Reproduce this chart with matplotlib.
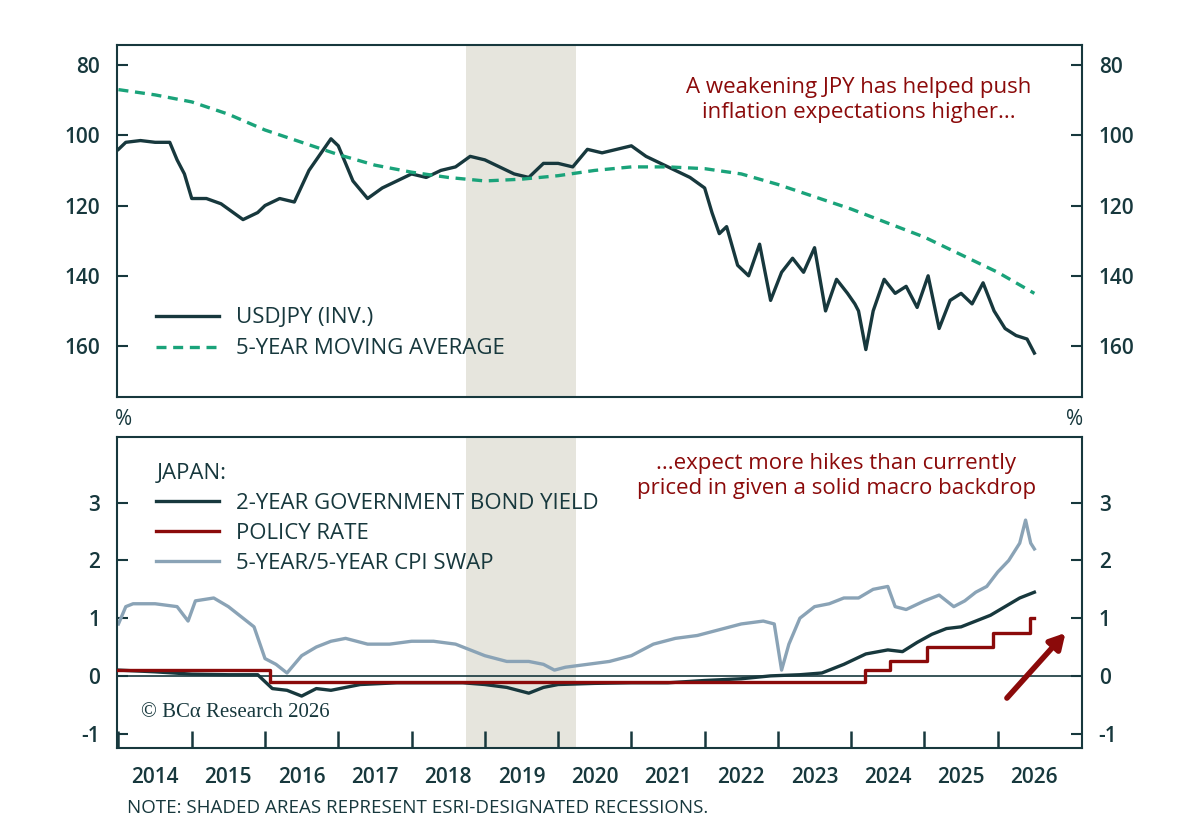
import matplotlib
matplotlib.use("Agg")
import matplotlib.pyplot as plt
import numpy as np

DARK = "#17383d"; GREEN = "#1aa37a"; RED = "#8b0a0a"; BLUE = "#8aa3b6"; SHADE = "#e6e5dd"

years = list(range(2014, 2027))
recession = (2018.74, 2020.24)

usd_t = [2014.0,2014.1,2014.3,2014.5,2014.7,2014.8,2014.9,2015.0,2015.2,2015.4,2015.5,2015.7,2015.9,2016.0,2016.2,2016.4,2016.6,2016.8,2016.9,2017.0,2017.2,2017.4,2017.6,2017.8,2018.0,2018.2,2018.4,2018.6,2018.8,2019.0,2019.2,2019.4,2019.6,2019.8,2020.0,2020.2,2020.4,2020.6,2020.8,2021.0,2021.2,2021.4,2021.6,2021.8,2022.0,2022.1,2022.2,2022.3,2022.45,2022.6,2022.75,2022.9,2023.05,2023.2,2023.35,2023.5,2023.65,2023.8,2023.95,2024.05,2024.1,2024.2,2024.3,2024.45,2024.6,2024.75,2024.9,2025.05,2025.2,2025.35,2025.5,2025.65,2025.8,2025.95,2026.1,2026.25,2026.4,2026.5]
usd_v = [104,102,101.5,102,102,107,111,118,118,119.5,121,124,122,120,118,119,110,104,101,103,113,118,115,113,111,112,110,109,106,107,109,111,112,108,108,109,104,105,104,103,106,108,110,112,115,122,128,126,137,140,131,147,139,135,139,132,150,141,145,148,150,161,150,141,145,143,149,140,155,147,145,148,142,150,155,157,158,162]

ma_t = [2014.0,2014.5,2015.0,2015.5,2016.0,2016.5,2017.0,2017.5,2018.0,2018.5,2019.0,2019.5,2020.0,2020.5,2021.0,2021.5,2022.0,2022.5,2023.0,2023.5,2024.0,2024.5,2025.0,2025.5,2026.0,2026.5]
ma_v = [87,88.5,90.5,94,98.5,102,105.5,108.5,110.5,112,113,112.5,111.5,110,109,109,109.5,111,114,117.5,121,125,129,134,139,145]

pol_t = [2014.0,2016.07,2016.07,2024.19,2024.19,2024.53,2024.53,2025.03,2025.03,2025.93,2025.93,2026.44,2026.44,2026.5]
pol_v = [0.1,0.1,-0.1,-0.1,0.1,0.1,0.25,0.25,0.5,0.5,0.75,0.75,1.0,1.0]

jgb_t = [2014.0,2014.5,2015.0,2015.5,2015.9,2016.1,2016.3,2016.5,2016.7,2016.9,2017.3,2017.8,2018.3,2018.7,2019.0,2019.3,2019.6,2019.8,2020.0,2020.5,2021.0,2021.5,2022.0,2022.5,2022.9,2023.3,2023.6,2023.9,2024.2,2024.5,2024.7,2024.9,2025.1,2025.3,2025.5,2025.7,2025.9,2026.1,2026.3,2026.5]
jgb_v = [0.1,0.07,0.03,0.02,0.02,-0.22,-0.25,-0.35,-0.22,-0.25,-0.15,-0.12,-0.12,-0.12,-0.15,-0.2,-0.3,-0.2,-0.15,-0.13,-0.12,-0.12,-0.08,-0.05,0.0,0.02,0.05,0.2,0.38,0.45,0.42,0.58,0.72,0.82,0.85,0.95,1.05,1.2,1.35,1.45]

cpi_t = [2014.0,2014.1,2014.2,2014.5,2014.8,2014.95,2015.05,2015.3,2015.5,2015.7,2015.85,2016.0,2016.15,2016.3,2016.5,2016.7,2016.9,2017.1,2017.4,2017.7,2018.0,2018.3,2018.6,2018.8,2019.0,2019.3,2019.6,2019.8,2019.95,2020.1,2020.4,2020.7,2021.0,2021.3,2021.6,2021.9,2022.2,2022.5,2022.8,2022.95,2023.05,2023.15,2023.3,2023.5,2023.7,2023.9,2024.1,2024.3,2024.5,2024.6,2024.75,2025.0,2025.2,2025.4,2025.55,2025.7,2025.85,2026.0,2026.15,2026.3,2026.38,2026.45,2026.5]
cpi_v = [0.9,1.2,1.25,1.25,1.2,0.95,1.3,1.35,1.2,1.0,0.85,0.3,0.2,0.05,0.35,0.5,0.6,0.65,0.55,0.55,0.6,0.6,0.55,0.45,0.35,0.25,0.25,0.2,0.1,0.15,0.2,0.25,0.35,0.55,0.65,0.7,0.8,0.9,0.95,0.9,0.1,0.55,1.0,1.2,1.25,1.35,1.35,1.5,1.55,1.2,1.15,1.3,1.4,1.2,1.3,1.45,1.55,1.8,2.0,2.3,2.7,2.3,2.2]

plt.rcParams['font.family'] = ['Open Sans', 'DejaVu Sans']
plt.rcParams['axes.unicode_minus'] = False
fig = plt.figure(figsize=(12, 8.3), dpi=100)
ax1 = fig.add_axes([117/1200, 1-397/830, 965/1200, 352/830])
ax2 = fig.add_axes([117/1200, 1-748/830, 965/1200, 311/830])
xl = (2013.98, 2027.15)

for ax in (ax1, ax2):
    ax.axvspan(*recession, color=SHADE, lw=0, zorder=0)
    ax.set_xlim(*xl)
    for s in ax.spines.values():
        s.set_color(DARK); s.set_linewidth(1.5)
    ax.tick_params(axis='y', direction='in', length=8, width=1.5, color=DARK, labelcolor=DARK,
                   labelsize=15, right=True, labelright=True, pad=12)
    for lab in ax.get_yticklabels(): lab.set_fontweight('semibold')

ax1.plot(usd_t, usd_v, color=DARK, lw=2.4, label='USDJPY (INV.)')
ax1.plot(ma_t, ma_v, color=GREEN, lw=2.4, ls=(0, (3, 2)), label='5-YEAR MOVING AVERAGE')
ax1.set_ylim(174.5, 74.3)
ax1.set_yticks([80, 100, 120, 140, 160])
ax1.set_xticks([])
ax1.legend(loc='lower left', bbox_to_anchor=(0.02, 0.05), frameon=False, fontsize=16,
           labelcolor=DARK, handlelength=2.8, labelspacing=0.45)
ax1.text(0.948, 0.91, 'A weakening JPY has helped push\ninflation expectations higher...', transform=ax1.transAxes,
         ha='right', ma='center', va='top', color=RED, fontsize=16, linespacing=1.25)

ax2.axhline(0, color=DARK, lw=1.2, zorder=1)
ax2.plot(jgb_t, jgb_v, color=DARK, lw=2.4, label='2-YEAR GOVERNMENT BOND YIELD', zorder=3)
ax2.plot(pol_t, pol_v, color=RED, lw=2.4, label='POLICY RATE', zorder=4)
ax2.plot(cpi_t, cpi_v, color=BLUE, lw=2.4, label='5-YEAR/5-YEAR CPI SWAP', zorder=2)
ax2.set_ylim(-1.25, 4.14)
ax2.set_yticks([-1, 0, 1, 2, 3])
ax2.set_xticks(years, minor=True)
ax2.set_xticks([y + 0.5 for y in years])
ax2.set_xticklabels([str(y) for y in years], fontsize=15, color=DARK, fontweight='semibold')
ax2.tick_params(axis='x', which='major', length=0, pad=14)
ax2.tick_params(axis='x', which='minor', direction='in', length=12, width=1.8, color=DARK)
leg = ax2.legend(loc='upper left', bbox_to_anchor=(0.02, 0.98), frameon=False, fontsize=16,
                 labelcolor=DARK, handlelength=2.8, title='JAPAN:', alignment='left', labelspacing=0.4)
leg.get_title().set_color(DARK); leg.get_title().set_fontsize(16)
ax2.text(0.952, 0.95, '...expect more hikes than currently\npriced in given a solid macro backdrop',
         transform=ax2.transAxes, ha='right', ma='center', va='top', color=RED, fontsize=16, linespacing=1.25)
ax2.annotate('', xy=(2026.95, 0.78), xytext=(2026.1, -0.42),
             arrowprops=dict(arrowstyle='-|>,head_width=0.5,head_length=0.9', color=RED, lw=4))
ax2.text(0.025, 0.1, '© BCα Research 2026', transform=ax2.transAxes, fontsize=15, color=DARK,
         family=['Liberation Serif', 'DejaVu Serif'])

fig.text(124/1200, 1-425/830, '%', fontsize=15, color=DARK, ha='center')
fig.text(1075/1200, 1-425/830, '%', fontsize=15, color=DARK, ha='center')
fig.text(127/1200, 1-808/830, 'NOTE: SHADED AREAS REPRESENT ESRI-DESIGNATED RECESSIONS.', fontsize=13.5,
         color=DARK, va='center')
fig.savefig('out.png', dpi=100, facecolor='white')
